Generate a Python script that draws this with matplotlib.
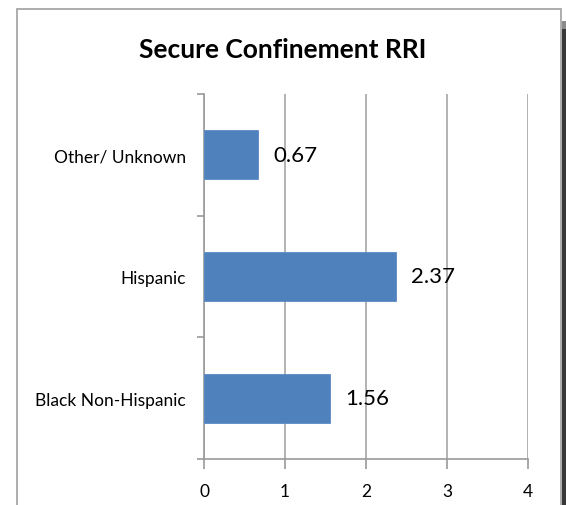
import matplotlib
matplotlib.use("Agg")
import matplotlib.pyplot as plt
from matplotlib.patches import Rectangle

# Data
categories = ["Black Non-Hispanic", "Hispanic", "Other/ Unknown"]
values = [1.56, 2.37, 0.67]
value_labels = ["1.56", "2.37", "0.67"]
x_ticks = [0, 1, 2, 3, 4]

plt.rcParams["font.family"] = ["Lato", "DejaVu Sans"]

W, H = 566, 506
fig = plt.figure(figsize=(W / 100, H / 100), dpi=100)
fig.patch.set_facecolor("white")

# outer chart frame + shadow on the right
fig.patches.append(Rectangle((17 / W, -0.05), (560.5 - 17) / W, 1.05 - 10 / H,
                             transform=fig.transFigure, fill=False,
                             edgecolor="#A0A0A0", linewidth=1.2))
fig.patches.append(Rectangle((561.5 / W, 0), 4.5 / W, 1 - 30 / H,
                             transform=fig.transFigure, color="#383838", linewidth=0))
fig.patches.append(Rectangle((561.5 / W, 1 - 30 / H), 4.5 / W, 8 / H,
                             transform=fig.transFigure, color="#8a8a8a", linewidth=0))

ax = fig.add_axes([204 / W, 1 - 460 / H, (528 - 204) / W, (460 - 95) / H])

pos = range(len(categories))
ax.barh(pos, values, height=0.4, color="#4F81BD", edgecolor="#5A8AC6", linewidth=0.6, zorder=3)
for p, v, lab in zip(pos, values, value_labels):
    ax.annotate(lab, (v, p), xytext=(11, 0), textcoords="offset points",
                va="center", ha="left", fontsize=16, color="black", zorder=4)

ax.set_xlim(0, 4)
ax.set_ylim(-0.5, len(categories) - 0.5)
ax.set_xticks(x_ticks)
ax.set_xticklabels([str(t) for t in x_ticks], fontsize=12.5)
ax.set_yticks(list(pos))
ax.set_yticklabels(categories, fontsize=12.5)
ax.tick_params(axis="y", length=0, pad=13)
ax.set_yticks([-0.5, 0.5, 1.5, 2.5], minor=True)
ax.tick_params(axis="y", which="minor", length=5, color="#9A9A9A", width=1.2)
ax.tick_params(axis="x", length=7, color="#9A9A9A", width=1.2, pad=10)

ax.grid(axis="x", color="#A6A6A6", linewidth=1.2, zorder=0)
for s in ["top", "right"]:
    ax.spines[s].set_visible(False)
for s in ["left", "bottom"]:
    ax.spines[s].set_color("#9A9A9A")
    ax.spines[s].set_linewidth(1.2)

fig.text(283 / W, 1 - 50 / H, "Secure Confinement RRI", ha="center", va="center",
         fontsize=19, fontweight="bold")

fig.savefig("out.png", dpi=100)
